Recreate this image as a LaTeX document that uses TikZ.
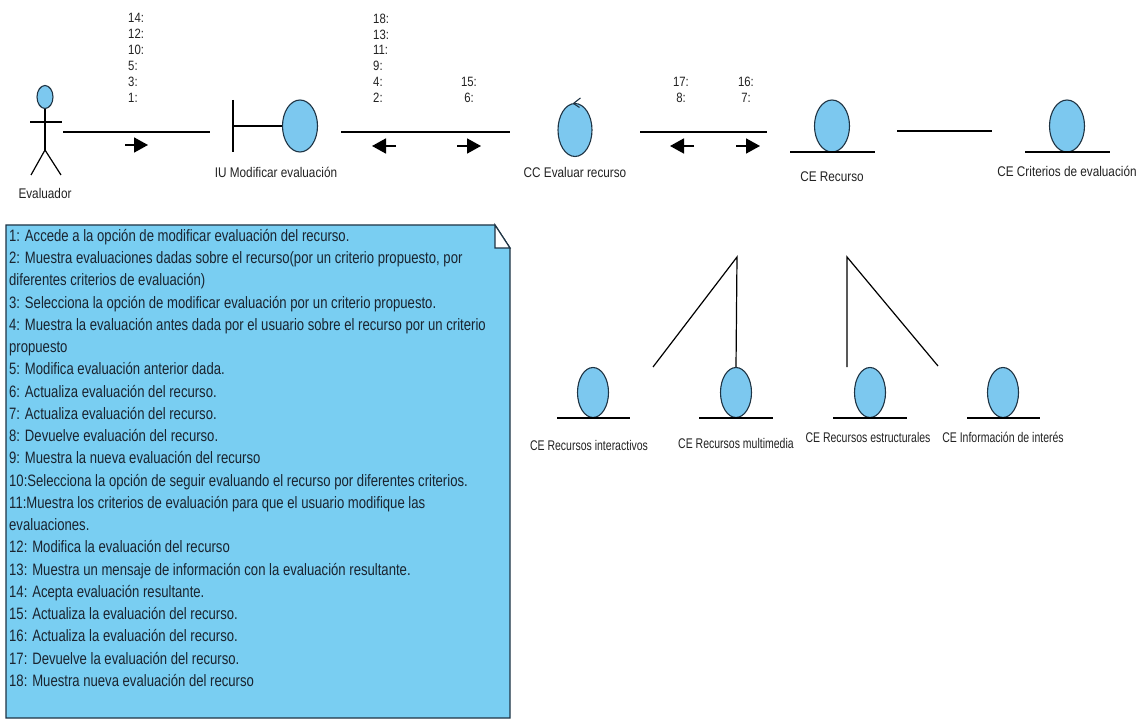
\documentclass[tikz,border=0pt]{standalone}
\usepackage{fontspec}
\setmainfont{Liberation Sans}[FakeStretch=0.84]
\newfontfamily\notefont{Liberation Sans}[FakeStretch=0.795]
\newfontfamily\lowfont{Liberation Sans}[FakeStretch=0.75]
\usetikzlibrary{arrows.meta,shapes.geometric}
\definecolor{objfill}{HTML}{7CC8EF}
\definecolor{objline}{HTML}{1F3444}
\definecolor{notefill}{HTML}{79CEF2}
\definecolor{notetext}{HTML}{1A2430}
\definecolor{lbltext}{HTML}{222222}
\begin{document}
\begin{tikzpicture}[x=1pt,y=-1pt,
  objell/.style={ellipse, draw=objline, fill=objfill, line width=1.1pt, inner sep=0pt,
                 minimum width=35pt, minimum height=52pt},
  lowell/.style={objell, minimum width=31pt, minimum height=50pt},
  lbl/.style={font=\fontsize{14}{16}\selectfont, text=lbltext, inner sep=0pt},
  lowlbl/.style={font=\lowfont\fontsize{14}{16}\selectfont, text=lbltext, inner sep=0pt},
  seqnum/.style={font=\fontsize{13.5}{15.9}\selectfont, text=lbltext, inner sep=0pt},
  link/.style={line width=1.2pt},
  msgarrow/.style={line width=1.7pt, -{Triangle[length=14pt,width=15pt]}}]
\useasboundingbox (0,0) rectangle (1148,719);
\fill[white] (0,0) rectangle (1148,719);

% ---- actor ----
\node[ellipse, draw=objline, fill=objfill, line width=1.1pt, inner sep=0pt,
      minimum width=16pt, minimum height=23pt] (head) at (45,97) {};
\coordinate (hip) at (45,150);
\draw[link] (head.south) -- (hip);
\draw[link] (30,122) -- (62,122);
\draw[link] (hip) -- (31,175);
\draw[link] (hip) -- (61,175);
\node[lbl] (evaluador) at (45,193) {Evaluador};

% ---- boundary ----
\node[objell] (iu) at (300,126) {};
\coordinate (iubarT) at (233,100);
\coordinate (iubarB) at (233,152);
\draw[link] (iubarT) -- (iubarB);
\draw[link] (233,126) -- (iu.west);
\node[lbl] (iulbl) at (276,172) {IU Modificar evaluación};

% ---- control ----
\node[objell, minimum width=34pt, minimum height=53pt] (cc) at (575,130) {};
\draw[line width=1.1pt, objline] (cc.north) ++(-1.5,0.5) -- ++(7,-5.5);
\draw[line width=1.1pt, objline] (cc.north) ++(-1.5,0.5) -- ++(6,4);
\node[lbl] (cclbl) at (575,172) {CC Evaluar recurso};

% ---- entities (top row) ----
\node[objell] (rec) at (832,126) {};
\draw[link] (790,152) -- (875,152);
\node[lbl] (reclbl) at (832,177) {CE Recurso};

\node[objell] (crit) at (1067,126) {};
\draw[link] (1025,152) -- (1110,152);
\node[lbl] (critlbl) at (1067,171) {CE Criterios de evaluación};

% ---- entities (bottom row) ----
\node[lowell] (inter) at (593,392.5) {};
\draw[link] (557,418) -- (630,418);
\node[lowlbl] (interlbl) at (589,445) {CE Recursos interactivos};

\node[lowell] (multi) at (736,392.5) {};
\draw[link] (699,418) -- (773,418);
\node[lowlbl] (multilbl) at (736,443) {CE Recursos multimedia};

\node[lowell] (estr) at (870,392.5) {};
\draw[link] (833,418) -- (907,418);
\node[lowlbl] (estrlbl) at (868,437) {CE Recursos estructurales};

\node[lowell] (info) at (1003,392.5) {};
\draw[link] (967,418) -- (1040,418);
\node[lowlbl] (infolbl) at (1003,437) {CE Información de interés};

% ---- links ----
\coordinate (l1a) at (63,132);  \coordinate (l1b) at (210,132);
\coordinate (l2a) at (341,132); \coordinate (l2b) at (510,132);
\coordinate (l3a) at (640,132); \coordinate (l3b) at (767,132);
\coordinate (l4a) at (897,131); \coordinate (l4b) at (992,131);
\draw[link] (l1a) -- (l1b);
\draw[link] (l2a) -- (l2b);
\draw[link] (l3a) -- (l3b);
\draw[link] (l4a) -- (l4b);

\coordinate (genL) at (737,257);
\coordinate (genR) at (847,257);
\draw[link] (653,367) -- (genL) -- (multi.north);
\draw[link] (938,366) -- (genR) -- (847,367);

% ---- message arrows ----
\draw[msgarrow] (125,145) -- (148,145);
\draw[msgarrow] (396,146) -- (372,146);
\draw[msgarrow] (457,146) -- (481,146);
\draw[msgarrow] (694,146) -- (670,146);
\draw[msgarrow] (736,146) -- (760,146);

% ---- sequence numbers ----
\node[seqnum, anchor=north west, align=left] (s1) at (128,13.5) {14:\\12:\\10:\\5:\\3:\\1:};
\node[seqnum, anchor=north west, align=left] (s2) at (373,13.5) {18:\\13:\\11:\\9:\\4:\\2:};
\node[seqnum, anchor=north, align=center] (s3) at (469,77) {15:\\6:};
\node[seqnum, anchor=north, align=center] (s4) at (681,77) {17:\\8:};
\node[seqnum, anchor=north, align=center] (s5) at (746,77) {16:\\7:};

% ---- note ----
\draw[line width=1.2pt, draw=objline, fill=notefill]
  (6,225) -- (495,225) -- (510,248) -- (510,718) -- (6,718) -- cycle;
\draw[line width=1.2pt, draw=objline, fill=white]
  (495,225) -- (495,248) -- (510,248) -- cycle;
\node[anchor=north west, align=left, inner sep=0pt, text=notetext,
      font=\notefont\fontsize{16.5}{22.25}\selectfont] (notetext) at (9,229) {%
1: Accede a la opción de modificar evaluación del recurso.\\
2: Muestra evaluaciones dadas sobre el recurso(por un criterio propuesto, por\\
diferentes criterios de evaluación)\\
3: Selecciona la opción de modificar evaluación por un criterio propuesto.\\
4: Muestra la evaluación antes dada por el usuario sobre el recurso por un criterio\\
propuesto\\
5: Modifica evaluación anterior dada.\\
6: Actualiza evaluación del recurso.\\
7: Actualiza evaluación del recurso.\\
8: Devuelve evaluación del recurso.\\
9: Muestra la nueva evaluación del recurso\\
10:Selecciona la opción de seguir evaluando el recurso por diferentes criterios.\\
11:Muestra los criterios de evaluación para que el usuario modifique las\\
evaluaciones.\\
12: Modifica la evaluación del recurso\\
13: Muestra un mensaje de información con la evaluación resultante.\\
14: Acepta evaluación resultante.\\
15: Actualiza la evaluación del recurso.\\
16: Actualiza la evaluación del recurso.\\
17: Devuelve la evaluación del recurso.\\
18: Muestra nueva evaluación del recurso};
\end{tikzpicture}
\end{document}
